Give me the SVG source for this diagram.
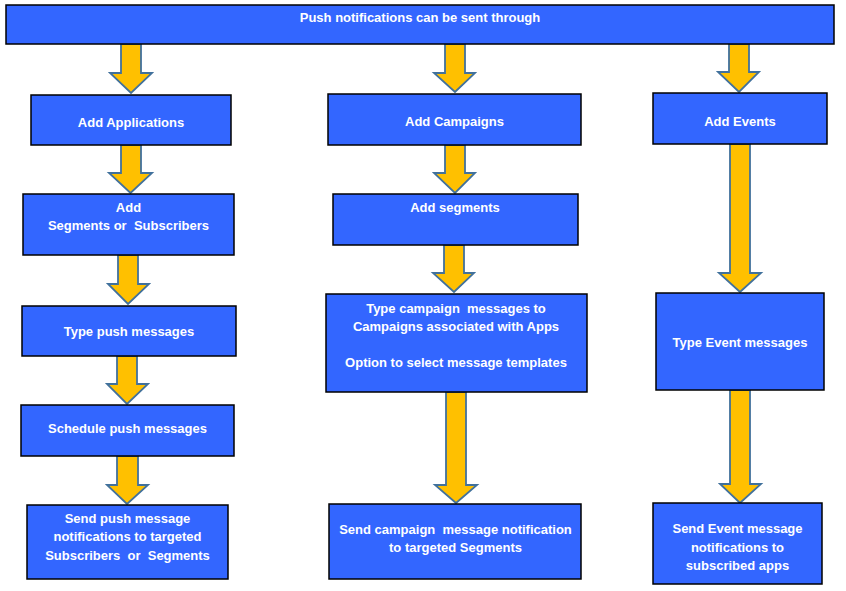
<svg xmlns="http://www.w3.org/2000/svg" width="846" height="591" viewBox="0 0 846 591">
<style>
.box{fill:#3366FF;stroke:#000;stroke-width:1.5}
.arr{fill:#FFC000;stroke:#41719C;stroke-width:1.8;stroke-linejoin:miter}
text{font-family:"Liberation Sans",Arial,sans-serif;font-weight:bold;font-size:13px;fill:#FFFFFF;text-anchor:middle;white-space:pre}
</style>
<rect width="846" height="591" fill="#FFFFFF"/>
<g id="connectors">
<path class="arr" d="M121,44 L141,44 L141,73 L152,73 L131,93 L110,73 L121,73 Z"/>
<path class="arr" d="M121,145 L141,145 L141,173 L152,173 L130.5,193 L109,173 L121,173 Z"/>
<path class="arr" d="M118,255 L138,255 L138,284 L149,284 L128,304 L108,284 L118,284 Z"/>
<path class="arr" d="M117,356 L137,356 L137,384 L148,384 L127,404 L107,384 L117,384 Z"/>
<path class="arr" d="M117,456 L138,456 L138,485 L148,485 L127,504 L107,485 L117,485 Z"/>
<path class="arr" d="M445,44 L465,44 L465,73 L475,73 L455,92 L434,73 L445,73 Z"/>
<path class="arr" d="M445,145 L465,145 L465,173 L475,173 L455,193 L434,173 L445,173 Z"/>
<path class="arr" d="M444,245 L464,245 L464,273 L474,273 L454,292 L433,273 L444,273 Z"/>
<path class="arr" d="M446,392 L466,392 L466,485 L477,485 L456,503 L435,485 L446,485 Z"/>
<path class="arr" d="M729,44 L749,44 L749,72 L759,72 L739,92 L718,72 L729,72 Z"/>
<path class="arr" d="M730,144 L750,144 L750,273 L761,273 L740,292 L719,273 L730,273 Z"/>
<path class="arr" d="M730,390 L750,390 L750,484 L761,484 L740,503 L720,484 L730,484 Z"/>
</g>
<g id="top">
<rect class="box" x="6" y="5" width="828" height="39"/>
<text x="420" y="22">Push notifications can be sent through</text>
</g>
<g id="add-applications">
<rect class="box" x="31" y="95" width="200" height="50"/>
<text x="131" y="127">Add Applications</text>
</g>
<g id="add-segments-subscribers">
<rect class="box" x="23" y="194" width="211" height="61"/>
<text x="128.5" y="212">Add</text>
<text x="128.5" y="229.5">Segments or  Subscribers</text>
</g>
<g id="type-push">
<rect class="box" x="22" y="306" width="214" height="50"/>
<text x="129" y="336">Type push messages</text>
</g>
<g id="schedule-push">
<rect class="box" x="21" y="405" width="213" height="51"/>
<text x="127.5" y="433">Schedule push messages</text>
</g>
<g id="send-push">
<rect class="box" x="27" y="505" width="201" height="74"/>
<text x="127.5" y="522.5">Send push message</text>
<text x="127.5" y="541">notifications to targeted</text>
<text x="127.5" y="559.5">Subscribers  or  Segments</text>
</g>
<g id="add-campaigns">
<rect class="box" x="328" y="94" width="253" height="51"/>
<text x="454.5" y="126">Add Campaigns</text>
</g>
<g id="add-segments">
<rect class="box" x="333" y="194" width="245" height="51"/>
<text x="455" y="212">Add segments</text>
</g>
<g id="type-campaign">
<rect class="box" x="326" y="294" width="261" height="98"/>
<text x="456" y="313">Type campaign  messages to</text>
<text x="456" y="331">Campaigns associated with Apps</text>
<text x="456" y="367">Option to select message templates</text>
</g>
<g id="send-campaign">
<rect class="box" x="329" y="504" width="252" height="75"/>
<text x="455.5" y="534">Send campaign  message notification</text>
<text x="455.5" y="552">to targeted Segments</text>
</g>
<g id="add-events">
<rect class="box" x="653" y="93" width="174" height="51"/>
<text x="740" y="126">Add Events</text>
</g>
<g id="type-event">
<rect class="box" x="656" y="293" width="168" height="97"/>
<text x="740" y="347">Type Event messages</text>
</g>
<g id="send-event">
<rect class="box" x="653" y="503" width="169" height="81"/>
<text x="737.5" y="533">Send Event message</text>
<text x="737.5" y="552">notifications to</text>
<text x="737.5" y="569.5">subscribed apps</text>
</g>
</svg>
